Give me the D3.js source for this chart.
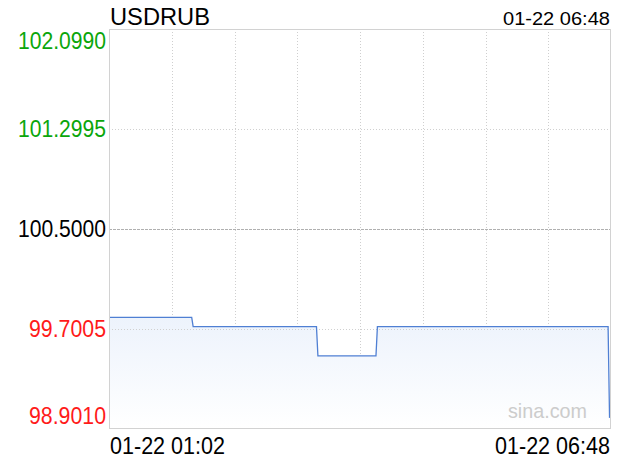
<!DOCTYPE html>
<html><head><meta charset="utf-8">
<script src="https://cdn.jsdelivr.net/npm/d3@7"></script>
<style>body{margin:0;background:#fff}svg{display:block}text{font-family:"Liberation Sans",Arial,Helvetica,sans-serif}</style>
</head><body><svg id="c" width="620" height="460"></svg>
<script>
const symbol = "USDRUB";
const stamp = "01-22 06:48";
const day = "2024-01-22";
const times = ["01:02","01:59","02:00","03:25","03:26","04:06","04:07","06:46","06:47"];
const values = [99.794, 99.794, 99.719, 99.719, 99.485, 99.485, 99.719, 99.719, 98.990];
const yTicks = [102.0990, 101.2995, 100.5000, 99.7005, 98.9010];
const yTickLabels = ["102.0990","101.2995","100.5000","99.7005","98.9010"];
const yTickColors = ["#0aa60a","#0aa60a","#000000","#ff1a1a","#ff1a1a"];
const xLabels = ["01-22 01:02","01-22 06:48"];
const xDomain = ["01:02","06:48"];

const parse = d3.timeParse("%Y-%m-%d %H:%M");
const M = {l:109, r:611, t:29, b:429};
const svg = d3.select("#c");
const x = d3.scaleTime().domain(xDomain.map(t=>parse(day+" "+t))).range([M.l, M.r]);
const y = d3.scaleLinear().domain([yTicks[4], yTicks[0]]).range([M.b, M.t]);
const data = times.map((t,i)=>({t:parse(day+" "+t), v:values[i]}));

// gradient
const defs = svg.append("defs");
const g = defs.append("linearGradient").attr("id","fill").attr("gradientUnits","userSpaceOnUse")
  .attr("x1",0).attr("x2",0).attr("y1",y(d3.max(values))).attr("y2",M.b);
g.append("stop").attr("offset","0").attr("stop-color","#edf3fc");
g.append("stop").attr("offset","1").attr("stop-color","#ffffff");

// vertical grid
const xTicks = d3.range(1,8).map(k=>x.invert(M.l + (M.r-M.l)*k/8));
svg.append("g").selectAll("line").data(xTicks).join("line")
  .attr("x1",d=>Math.round(x(d))+0.5).attr("x2",d=>Math.round(x(d))+0.5)
  .attr("y1",M.t).attr("y2",M.b)
  .attr("stroke","#cfcfcf").attr("stroke-dasharray","1,2");

// area
svg.append("path").datum(data)
  .attr("d", d3.area().x(d=>x(d.t)).y0(M.b).y1(d=>y(d.v)))
  .attr("fill","url(#fill)");

// horizontal grid
svg.append("g").selectAll("line").data([yTicks[1],yTicks[3]]).join("line")
  .attr("x1",M.l).attr("x2",M.r)
  .attr("y1",d=>Math.round(y(d))+0.5).attr("y2",d=>Math.round(y(d))+0.5)
  .attr("stroke","#d0d0d0").attr("stroke-dasharray","1,2");
svg.append("line").attr("x1",M.l).attr("x2",M.r)
  .attr("y1",Math.round(y(yTicks[2]))+0.5).attr("y2",Math.round(y(yTicks[2]))+0.5)
  .attr("stroke","#b0b0b0").attr("stroke-dasharray","3,1");

// line
svg.append("path").datum(data)
  .attr("d", d3.line().x(d=>x(d.t)).y(d=>y(d.v)))
  .attr("fill","none").attr("stroke","#4f7fd3").attr("stroke-width",1.3);

// border
svg.append("rect").attr("x",M.l+0.5).attr("y",M.t+0.5).attr("width",M.r-M.l-1).attr("height",M.b-M.t-1)
  .attr("fill","none").attr("stroke","#d2d2d2");

// y labels
const yl = svg.append("g");
yTicks.forEach((v,i)=>{
  let yy = y(v) + 7.5;
  if(i===0) yy = M.t + 20;
  if(i===4) yy = M.b - 5;
  const w = yTickLabels[i].length === 8 ? 88 : 77;
  yl.append("text").attr("x",106).attr("y",yy).attr("text-anchor","end")
    .attr("font-size",23).attr("fill",yTickColors[i])
    .attr("textLength",w).attr("lengthAdjust","spacingAndGlyphs")
    .text(yTickLabels[i]);
});

// title & stamp
svg.append("text").attr("x",110).attr("y",25).attr("font-size",24).attr("fill","#000")
  .attr("textLength",100).attr("lengthAdjust","spacingAndGlyphs").text(symbol);
svg.append("text").attr("x",610).attr("y",25).attr("text-anchor","end").attr("font-size",18).attr("fill","#000")
  .attr("textLength",107).attr("lengthAdjust","spacingAndGlyphs").text(stamp);

// x labels
svg.append("text").attr("x",110).attr("y",454).attr("font-size",23).attr("fill","#000")
  .attr("textLength",115).attr("lengthAdjust","spacingAndGlyphs").text(xLabels[0]);
svg.append("text").attr("x",610).attr("y",454).attr("text-anchor","end").attr("font-size",23).attr("fill","#000")
  .attr("textLength",115).attr("lengthAdjust","spacingAndGlyphs").text(xLabels[1]);

// watermark
svg.append("text").attr("x",587).attr("y",418).attr("text-anchor","end").attr("font-size",21).attr("fill","#cccccc")
  .attr("textLength",79).attr("lengthAdjust","spacingAndGlyphs").text("sina.com");
</script></body></html>
